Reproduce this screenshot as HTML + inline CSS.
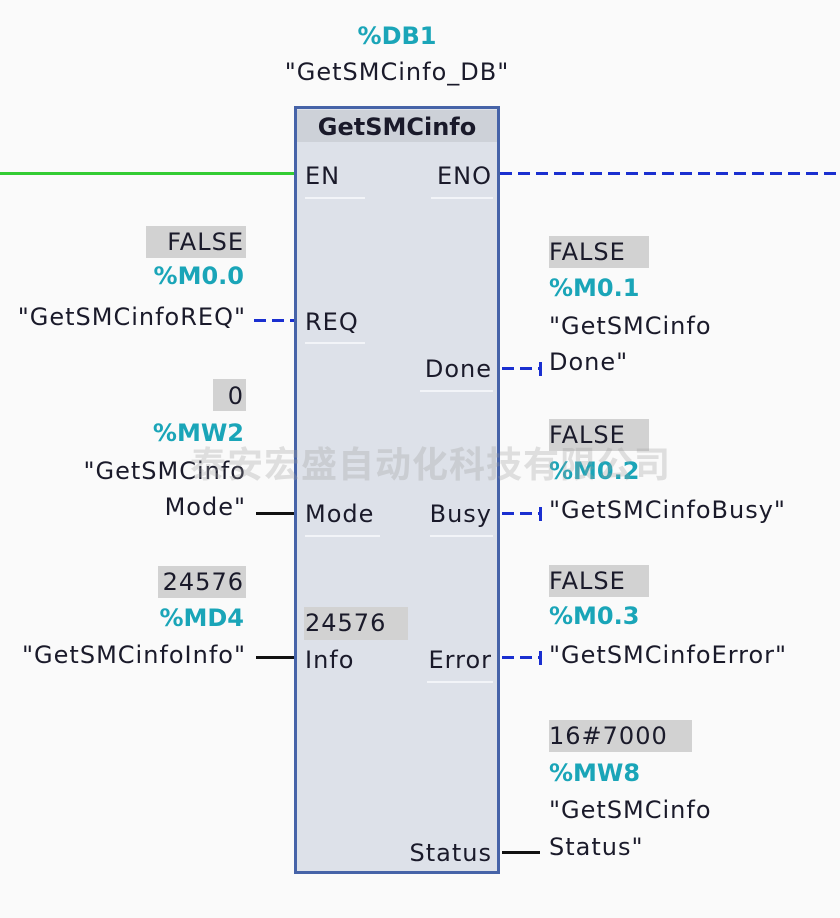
<!DOCTYPE html>
<html><head><meta charset="utf-8"><style>
html,body{margin:0;padding:0}
body{width:840px;height:918px;position:relative;background:#fafafa;overflow:hidden;font-family:"DejaVu Sans","Liberation Sans",sans-serif;font-size:24px;letter-spacing:1px;color:#1a1a2a}
.t{position:absolute;line-height:30px;white-space:nowrap}
.r{text-align:right}
.c{color:#1aa5b8;font-weight:bold;letter-spacing:0px}
.g{position:absolute;background:#d2d2d2}
.box{position:absolute;left:294px;top:106px;width:200px;height:762px;border:3px solid #4663a8;background:#dde1e9}
.hdr{position:absolute;left:297px;top:110px;width:200px;height:32px;background:#cdd1d8}
.ul{position:absolute;height:2px;background:#f2f4f8}
.w{position:absolute;height:3px}
.k{background:#111}
.d{background:repeating-linear-gradient(90deg,#1a2fd0 0 12px,transparent 12px 18px)}
.tick{position:absolute;width:3px;height:14px;background:#1a2fd0}
.pr{position:absolute;line-height:30px;white-space:nowrap;right:348px;text-align:right}
</style></head><body>
<div class="t c" style="left:0;width:794px;text-align:center;top:21px">%DB1</div>
<div class="t" style="left:0;width:794px;text-align:center;top:57px">"GetSMCinfo_DB"</div>

<div class="w" style="left:0;width:294px;top:172px;background:#33cc33"></div>
<div class="w d" style="left:500px;width:340px;top:172px"></div>

<div class="box"></div>
<div class="hdr"></div>
<div class="t" style="left:297px;width:200px;text-align:center;top:112px;font-weight:bold;letter-spacing:0">GetSMCinfo</div>

<div class="t" style="left:305px;top:161px">EN</div>
<div class="pr" style="top:161px">ENO</div>
<div class="ul" style="left:305px;width:60px;top:197px"></div>
<div class="ul" style="left:431px;width:62px;top:197px"></div>

<div class="t" style="left:305px;top:307px">REQ</div>
<div class="ul" style="left:305px;width:60px;top:342px"></div>
<div class="pr" style="top:354px">Done</div>
<div class="ul" style="left:420px;width:73px;top:390px"></div>

<div class="t" style="left:305px;top:499px">Mode</div>
<div class="ul" style="left:305px;width:75px;top:535px"></div>
<div class="pr" style="top:499px">Busy</div>
<div class="ul" style="left:430px;width:63px;top:535px"></div>

<div class="g" style="left:304px;top:607px;width:104px;height:33px"></div>
<div class="t" style="left:305px;top:608px">24576</div>
<div class="t" style="left:305px;top:645px">Info</div>
<div class="pr" style="top:645px">Error</div>
<div class="ul" style="left:427px;width:66px;top:681px"></div>

<div class="pr" style="top:838px">Status</div>

<!-- left side -->
<div class="g" style="left:146px;top:226px;width:100px;height:32px"></div>
<div class="t r" style="right:596px;top:227px">FALSE</div>
<div class="t r c" style="right:596px;top:261px">%M0.0</div>
<div class="t r" style="right:594px;top:302px">"GetSMCinfoREQ"</div>
<div class="w d" style="left:254px;width:40px;top:319px"></div>

<div class="g" style="left:213px;top:379px;width:33px;height:32px"></div>
<div class="t r" style="right:596px;top:381px">0</div>
<div class="t r c" style="right:596px;top:418px">%MW2</div>
<div class="t r" style="right:594px;top:456px">"GetSMCinfo</div>
<div class="t r" style="right:594px;top:492px">Mode"</div>
<div class="w k" style="left:256px;width:38px;top:512px"></div>

<div class="g" style="left:158px;top:566px;width:88px;height:32px"></div>
<div class="t r" style="right:596px;top:567px">24576</div>
<div class="t r c" style="right:596px;top:603px">%MD4</div>
<div class="t r" style="right:594px;top:640px">"GetSMCinfoInfo"</div>
<div class="w k" style="left:256px;width:38px;top:656px"></div>

<!-- right side -->
<div class="g" style="left:549px;top:236px;width:100px;height:32px"></div>
<div class="t" style="left:549px;top:237px">FALSE</div>
<div class="t c" style="left:549px;top:273px">%M0.1</div>
<div class="t" style="left:549px;top:311px">"GetSMCinfo</div>
<div class="t" style="left:549px;top:347px">Done"</div>
<div class="w d" style="left:502px;width:40px;top:367px"></div>
<div class="tick" style="left:539px;top:362px"></div>

<div class="g" style="left:549px;top:419px;width:100px;height:32px"></div>
<div class="t" style="left:549px;top:420px">FALSE</div>
<div class="t c" style="left:549px;top:456px">%M0.2</div>
<div class="t" style="left:549px;top:495px">"GetSMCinfoBusy"</div>
<div class="w d" style="left:502px;width:40px;top:512px"></div>
<div class="tick" style="left:539px;top:507px"></div>

<div class="g" style="left:549px;top:565px;width:100px;height:32px"></div>
<div class="t" style="left:549px;top:566px">FALSE</div>
<div class="t c" style="left:549px;top:601px">%M0.3</div>
<div class="t" style="left:549px;top:640px">"GetSMCinfoError"</div>
<div class="w d" style="left:502px;width:40px;top:656px"></div>
<div class="tick" style="left:539px;top:651px"></div>

<div class="g" style="left:549px;top:720px;width:143px;height:32px"></div>
<div class="t" style="left:549px;top:721px">16#7000</div>
<div class="t c" style="left:549px;top:758px">%MW8</div>
<div class="t" style="left:549px;top:795px">"GetSMCinfo</div>
<div class="t" style="left:549px;top:832px">Status"</div>
<div class="w k" style="left:502px;width:38px;top:851px"></div>

<div class="t" style="left:190px;top:442px;font-family:'Noto Sans CJK SC',sans-serif;font-weight:bold;font-size:36px;line-height:40px;color:rgba(160,160,160,0.3);letter-spacing:1px">泰安宏盛自动化科技有限公司</div>
</body></html>
